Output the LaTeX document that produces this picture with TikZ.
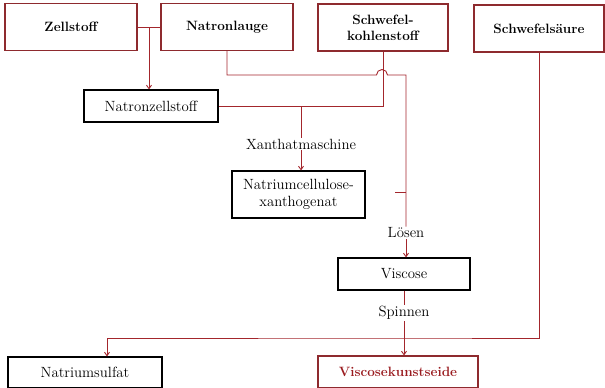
\documentclass[tikz,border=0pt]{standalone}
\usetikzlibrary{arrows.meta,calc}
\definecolor{lred}{HTML}{A3262C}
\definecolor{bred}{HTML}{8E2A2E}
\definecolor{tred}{HTML}{9A1C20}
\begin{document}
\begin{tikzpicture}[x=1pt,y=-1pt,
  every node/.style={font=\fontsize{14.8}{17}\selectfont},
  topbox/.style={draw=bred,line width=1.1pt,inner sep=0pt,align=center,font=\fontsize{13.5}{16}\selectfont\bfseries},
  plainbox/.style={draw=black,line width=1.1pt,inner sep=0pt,align=center},
  lbl/.style={inner sep=1pt},
  conn/.style={draw=lred,line width=0.9pt},
  arr/.style={conn,-{Straight Barb[length=3.5pt,width=5pt]}}]
\useasboundingbox (0,0) rectangle (605,388);
% boxes
\node[topbox,minimum width=132pt,minimum height=47pt] (zell) at (71,27) {Zellstoff};
\node[topbox,minimum width=132pt,minimum height=47pt] (lauge) at (227,27) {Natronlauge};
\node[topbox,minimum width=130pt,minimum height=47pt] (cs2) at (383,27.5) {Schwefel-\\kohlenstoff};
\node[topbox,minimum width=130pt,minimum height=47pt] (h2so4) at (539,28.5) {Schwefelsäure};
\node[plainbox,minimum width=134pt,minimum height=32pt] (nzell) at (151,106) {Natronzellstoff};
\node[plainbox,minimum width=133pt,minimum height=47pt] (xan) at (298.5,194.5) {Natriumcellulose-\\xanthogenat};
\node[plainbox,minimum width=132pt,minimum height=32pt] (visc) at (404,274) {Viscose};
\node[plainbox,minimum width=154pt,minimum height=31pt] (nsulf) at (85,372.5) {Natriumsulfat};
\node[topbox,minimum width=160pt,minimum height=32pt,text=tred] (vks) at (398,372) {Viscosekunstseide};
% labels
\node[lbl] (xm) at (301,144) {Xanthatmaschine};
\node[lbl] (loesen) at (406,233) {Lösen};
\node[lbl] (spin) at (404,313) {Spinnen};
% coordinates
\coordinate (j1) at (149,27);
\coordinate (j2) at (301,106);
\coordinate (hopL) at (376.5,75);
\coordinate (hopR) at (387.5,75);
\coordinate (corner) at (406,75);
\coordinate (stub) at (395,192);
\coordinate (j3) at (107,338);
\coordinate (j4) at (406,338);
% connectors
\draw[conn] (zell) -- (lauge);
\draw[arr] (j1) -- (j1 |- nzell.north);
\draw[conn] (lauge.south) |- (hopL) arc[start angle=180,end angle=0,radius=5.5pt] -- (hopR) -- (corner) -- (loesen.north);
\draw[conn] (cs2.south) |- (nzell.east);
\draw[conn] (j2) -- (xm.north -| j2);
\draw[arr] (xm.south -| j2) -- (xan.north -| j2);
\draw[conn] (stub) -- (stub -| corner);
\draw[arr] (loesen.south) -- (loesen.south |- visc.north);
\draw[conn] (visc.south -| spin) -- (spin.north);
\draw[arr] (spin.south) -- (spin.south |- vks.north);
\draw[conn] (h2so4.south) |- (j4) -- (j3);
\draw[arr] (j3) -- (j3 |- nsulf.north);
\end{tikzpicture}
\end{document}
